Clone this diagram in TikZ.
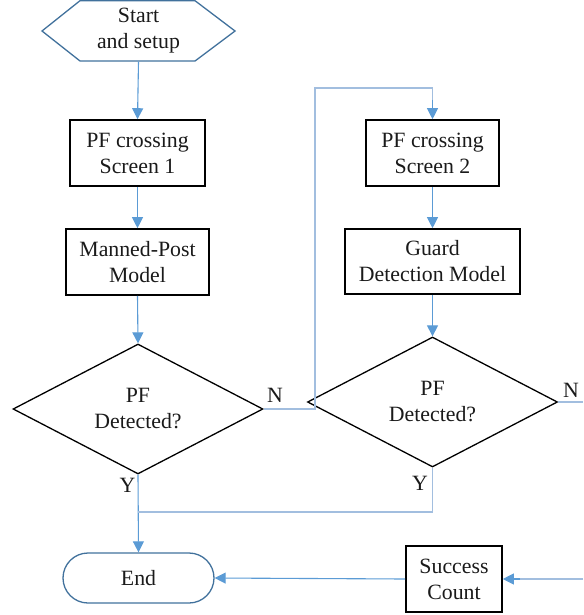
\documentclass[tikz,border=0pt]{standalone}
\usepackage{fontspec}
\setmainfont{Liberation Serif}
\usetikzlibrary{shapes.geometric,shapes.misc,arrows.meta}
\definecolor{arrowblue}{HTML}{5B9BD5}
\definecolor{lightblue}{HTML}{A2BEDF}
\definecolor{outlineblue}{HTML}{41719C}
\definecolor{txt}{HTML}{1A1A1A}
\begin{document}
\begin{tikzpicture}[x=1pt,y=-1pt,
  every node/.style={font=\fontsize{21.8}{26}\selectfont, text=txt, align=center},
  procbox/.style={draw=black, line width=1.6pt, rectangle, inner sep=0pt},
  decision/.style={draw=black, line width=1.3pt, diamond, aspect=1.923, minimum width=250, minimum height=130, inner sep=0pt},
  conn/.style={draw=arrowblue, line width=1.1pt, -{Triangle[length=11pt,width=11pt]}},
  lconn/.style={draw=lightblue, line width=1.3pt},
  lab/.style={font=\fontsize{21.8}{26}\selectfont}]
\useasboundingbox (0,0) rectangle (583,615);

% start hexagon
\node[minimum width=193, minimum height=61, inner sep=0pt] (start) at (138.5,31) {Start\\and setup};
\draw[outlineblue, line width=1.3pt] (42,31) -- (80,0.7) -- (195,0.7) -- (235,31) -- (195,61) -- (80,61) -- cycle;

\node[procbox, minimum width=135, minimum height=66] (b1) at (137.5,153) {PF crossing\\Screen 1};
\node[procbox, minimum width=143, minimum height=66] (m) at (137.5,262) {Manned-Post\\Model};
\node[decision] (d1) at (138,409) {PF\\Detected?};

\node[procbox, minimum width=133, minimum height=66] (b2) at (432.5,153) {PF crossing\\Screen 2};
\node[procbox, minimum width=175, minimum height=65] (g) at (432.5,261.5) {Guard\\Detection Model};
\node[decision] (d2) at (432.5,402) {PF\\Detected?};

\node[draw=outlineblue, line width=1.3pt, rounded rectangle, minimum width=151, minimum height=50, inner sep=0pt] (end) at (138.5,578) {End};
\node[procbox, minimum width=96, minimum height=66] (sc) at (454,579) {Success\\Count};

\coordinate (n1) at (315,409);
\coordinate (n2) at (315,88);
\coordinate (n3) at (432.5,100);
\coordinate (j) at (138,512);
\coordinate (out) at (583,402);
\coordinate (in) at (583,579);
\coordinate (in2) at (520,579);

\draw[conn] (start.south) -- (b1.north);
\draw[conn] (b1.south) -- (m.north);
\draw[conn] (m.south) -- (d1.north);
\draw[conn] (b2.south) -- (g.north);
\draw[conn] (g.south) -- (d2.north);
\draw[conn] (d1.south) -- (end.north);

\draw[lconn] (d1.east) -- (n1) -- (n2) -| (n3);
\draw[conn] (n3) -- (b2.north);
\draw[lconn] (d2.south) |- (j);
\draw[lconn] (d2.east) -- (out);
\draw[lconn] (in) -- (in2);
\draw[conn] (in2) -- (sc.east);
\draw[conn] (sc.west) -- (end.east);

\node[lab] (nl) at (275,395) {N};
\node[lab] (nr) at (571,390) {N};
\node[lab] (yl) at (127.5,485) {Y};
\node[lab] (yr) at (420,483) {Y};
\end{tikzpicture}
\end{document}
